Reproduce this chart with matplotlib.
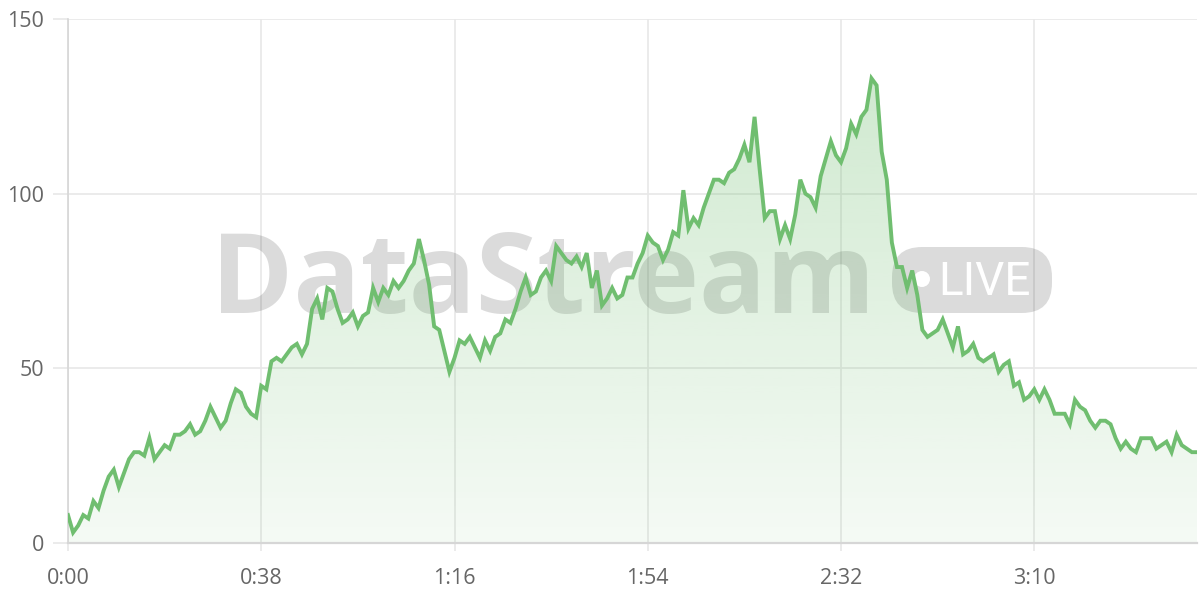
"""Live viewer count chart with DataStream watermark."""
import matplotlib

matplotlib.use("Agg")

import matplotlib.pyplot as plt
import numpy as np
from matplotlib.colors import to_rgb
from matplotlib.patches import Circle, FancyBboxPatch, PathPatch
from matplotlib.transforms import IdentityTransform

GREEN = "#70be70"
GRID = "#e8e8e8"
LABEL = "#666666"

# one sample per second
viewers = [
    8, 3, 5, 8, 7, 12, 10, 15, 19, 21,
    16, 20, 24, 26, 26, 25, 30, 24, 26, 28,
    27, 31, 31, 32, 34, 31, 32, 35, 39, 36,
    33, 35, 40, 44, 43, 39, 37, 36, 45,
    44, 52, 53, 52, 54, 56, 57, 54, 57, 67,
    70, 64, 73, 72, 67, 63, 64, 66, 62, 65,
    66, 73, 69, 73, 71, 75, 73, 75, 78, 80,
    87, 81, 74, 62, 61, 55, 49, 53, 58, 57,
    59, 56, 53, 58, 55, 59, 60, 64, 63, 67,
    72, 76, 71, 72, 76, 78, 75, 85, 83, 81,
    80, 82, 79, 83, 73, 78, 68, 70, 73,
    70, 71, 76, 76, 80, 83, 88, 86, 85, 81,
    84, 89, 88, 101, 90, 93, 91, 96, 100, 104,
    104, 103, 106, 107, 110, 114, 109, 122, 107, 93,
    95, 95, 87, 91, 87, 94, 104, 100, 99, 96,
    105, 110, 115, 111, 109, 113, 120, 117, 122, 124,
    133, 131, 112, 104, 86, 79, 79, 73, 78,
    71, 61, 59, 60, 61, 64, 60, 56, 62, 54,
    55, 57, 53, 52, 53, 54, 49, 51, 52, 45,
    46, 41, 42, 44, 41, 44, 41, 37, 37, 37,
    34, 41, 39, 38, 35, 33, 35, 35, 34, 30,
    27, 29, 27, 26, 30, 30, 30, 27, 28, 29,
    26, 31, 28, 27, 26, 26,
]
seconds = np.arange(len(viewers))
tick_seconds = np.arange(0, len(viewers), 38)
y_ticks = [0, 50, 100, 150]

plt.rcParams["font.family"] = ["Open Sans", "DejaVu Sans"]

fig = plt.figure(figsize=(12, 6), dpi=100)
ax = fig.add_axes([68 / 1200, 57 / 600, 1129 / 1200, 524 / 600])
ax.set_xlim(0, len(viewers) - 1)
ax.set_ylim(0, 150)
ax.set_axisbelow(True)
ax.grid(True, color=GRID, linewidth=1.2)

# watermark sits behind the fill
ax.text(543 / 1200, (600 - 313) / 600, "DataStream", transform=fig.transFigure,
        ha="center", va="baseline", fontsize=80, fontweight="bold",
        color="black", alpha=0.14, zorder=1)
pill = FancyBboxPatch((892, 600 - 313), 160, 66,
                      boxstyle="round,pad=0,rounding_size=30",
                      transform=IdentityTransform(), facecolor="black",
                      edgecolor="none", alpha=0.14, zorder=1)
ax.add_artist(pill)
ax.add_artist(Circle((922, 600 - 279), 8, transform=IdentityTransform(),
                     facecolor="white", edgecolor="none", zorder=1.1))
ax.text(938 / 1200, (600 - 295) / 600, "LIVE", transform=fig.transFigure,
        ha="left", va="baseline", fontsize=33, family="Roboto",
        color="white", zorder=1.1)

# gradient fill under the line
poly = ax.fill_between(seconds, viewers, 0, facecolor="none", edgecolor="none")
clip = PathPatch(poly.get_paths()[0], transform=ax.transData,
                 facecolor="none", edgecolor="none")
ax.add_patch(clip)
grad = np.zeros((256, 1, 4))
grad[:, 0, :3] = to_rgb(GREEN)
grad[:, 0, 3] = np.linspace(0.07, 0.36, 256)
img = ax.imshow(grad, extent=[0, len(viewers) - 1, 0, 150], origin="lower",
                aspect="auto", zorder=2)
img.set_clip_path(clip)

ax.plot(seconds, viewers, color=GREEN, linewidth=2.8, zorder=3,
        solid_joinstyle="miter")

ax.set_yticks(y_ticks)
ax.set_xticks(tick_seconds)
ax.set_xticklabels([f"{s // 60}:{s % 60:02d}" for s in tick_seconds])
ax.tick_params(axis="y", length=11, width=1.2, color=GRID, pad=6,
               labelsize=15.5, labelcolor=LABEL)
ax.tick_params(axis="x", length=6, width=1.2, color=GRID, pad=12,
               labelsize=15.5, labelcolor=LABEL)
for side in ("top", "right"):
    ax.spines[side].set_visible(False)
ax.spines["left"].set_color("#d6d6d6")
ax.spines["left"].set_linewidth(1.2)
ax.spines["bottom"].set_color("#d6d6d6")
ax.spines["bottom"].set_linewidth(1.6)

fig.savefig("out.png", dpi=100)
